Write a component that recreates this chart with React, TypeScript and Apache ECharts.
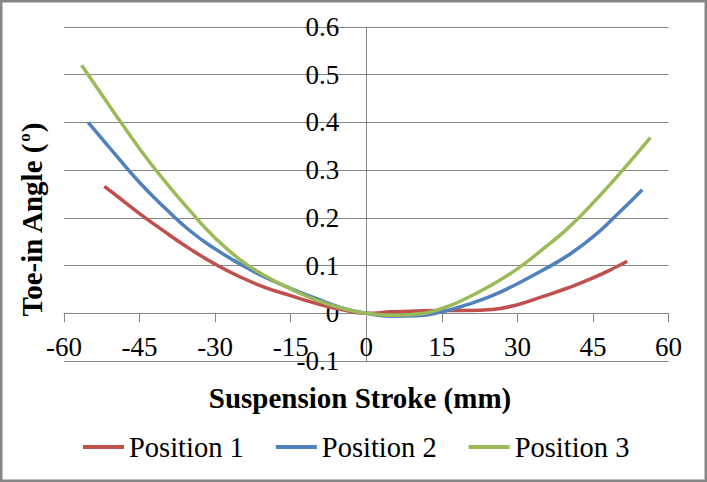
import React, { useEffect, useRef } from "react";
import * as echarts from "echarts";

const xTicks = { min: -60, max: 60, interval: 15 };
const yTicks = { min: -0.1, max: 0.6, interval: 0.1 };

const seriesNames = ["Position 1", "Position 2", "Position 3"];
const seriesColors = ["#C0504D", "#4F81BD", "#9BBB59"];

const p1X = [-52, -50, -45, -40, -35, -30, -25, -20, -15, -10, -5, 0, 5, 10, 15, 20, 25, 30, 35, 40, 45, 50, 51.8];
const p1Y = [0.266, 0.25, 0.209, 0.171, 0.135, 0.103, 0.076, 0.054, 0.037, 0.021, 0.008, 0, 0.003, 0.005, 0.006, 0.006, 0.008, 0.018, 0.035, 0.053, 0.074, 0.099, 0.109];

const p2X = [-55.2, -50, -45, -40, -35, -30, -25, -20, -15, -10, -5, 0, 5, 10, 15, 20, 25, 30, 35, 40, 45, 50, 54.8];
const p2Y = [0.4, 0.335, 0.274, 0.221, 0.173, 0.135, 0.103, 0.075, 0.052, 0.031, 0.012, 0, -0.006, -0.005, 0.003, 0.018, 0.037, 0.062, 0.09, 0.121, 0.16, 0.209, 0.259];

const p3X = [-56.5, -50, -45, -40, -35, -30, -25, -20, -15, -10, -5, 0, 5, 10, 15, 20, 25, 30, 35, 40, 45, 50, 56.4];
const p3Y = [0.52, 0.42, 0.345, 0.277, 0.215, 0.158, 0.112, 0.078, 0.051, 0.028, 0.011, 0, -0.004, -0.002, 0.01, 0.032, 0.06, 0.093, 0.134, 0.178, 0.231, 0.289, 0.368];

const allX = [p1X, p2X, p3X];
const allY = [p1Y, p2Y, p3Y];

const FONT = "Liberation Serif";
const GRAY = "#868686";

export default function App() {
  const ref = useRef<HTMLDivElement>(null);
  useEffect(() => {
    if (!ref.current) return;
    const chart = echarts.init(ref.current, null, { renderer: "svg" });
    const gridLeft = 64;
    const gridRight = 38.5;
    const gridTop = 27;
    const gridBottom = 121;
    const plotW = 707 - gridLeft - gridRight;
    const plotH = 482 - gridTop - gridBottom;
    const yAxisOffset = -plotW * ((0 - xTicks.min) / (xTicks.max - xTicks.min));
    const xAxisOffset = -plotH * ((0 - yTicks.min) / (yTicks.max - yTicks.min));
    const series = seriesNames.map((name, i) => ({
      name,
      type: "line",
      data: allX[i].map((x, j) => [x, allY[i][j]]),
      smooth: 0.5,
      symbol: "none",
      showSymbol: false,
      lineStyle: { color: seriesColors[i], width: 3.5 },
      itemStyle: { color: seriesColors[i] },
    }));
    chart.setOption({
      animation: false,
      backgroundColor: "#ffffff",
      grid: { left: gridLeft, right: gridRight, top: gridTop, bottom: gridBottom },
      xAxis: {
        type: "value",
        position: "bottom",
        offset: xAxisOffset,
        min: xTicks.min,
        max: xTicks.max,
        interval: xTicks.interval,
        axisLine: { show: true, onZero: false, lineStyle: { color: GRAY, width: 1 } },
        axisTick: { show: true, length: 9, lineStyle: { color: GRAY } },
        axisLabel: { margin: 20, fontSize: 27, fontFamily: FONT, color: "#000" },
        splitLine: { show: false },
      },
      yAxis: {
        type: "value",
        position: "left",
        offset: yAxisOffset,
        min: yTicks.min,
        max: yTicks.max,
        interval: yTicks.interval,
        axisLine: { show: true, onZero: false, lineStyle: { color: GRAY, width: 1 } },
        axisTick: { show: false },
        axisLabel: {
          margin: 27,
          fontSize: 27,
          fontFamily: FONT,
          color: "#000",
          formatter: (v: number) => String(Math.round(v * 10) / 10),
        },
        splitLine: { show: true, lineStyle: { color: GRAY, width: 1 } },
      },
      legend: {
        data: seriesNames,
        left: 83,
        top: 430,
        padding: 0,
        icon: "rect",
        itemWidth: 41,
        itemHeight: 4,
        itemGap: 32,
        textStyle: { fontSize: 28.5, fontFamily: FONT, color: "#000", lineHeight: 34 },
      },
      graphic: [
        {
          type: "rect",
          shape: { x: 1.25, y: 1.25, width: 704.5, height: 479.5 },
          style: { fill: "none", stroke: GRAY, lineWidth: 2.5 },
          silent: true,
        },
        {
          type: "text",
          x: 360,
          y: 398,
          style: {
            text: "Suspension Stroke (mm)",
            font: `bold 29px ${FONT}`,
            fill: "#000",
            align: "center",
            verticalAlign: "middle",
          },
        },
        {
          type: "text",
          x: 32,
          y: 220,
          rotation: Math.PI / 2,
          style: {
            text: "{m|Toe-in Angle (}{s|o}{m|)}",
            align: "center",
            verticalAlign: "middle",
            fill: "#000",
            rich: {
              m: { font: `bold 29px ${FONT}`, fill: "#000", lineHeight: 32 },
              s: { font: `bold 17px ${FONT}`, fill: "#000", lineHeight: 32, verticalAlign: "top", padding: [0, 1, 13, 1] },
            },
          },
        },
      ],
      series,
    });
    return () => chart.dispose();
  }, []);
  return (
    <div
      ref={ref}
      style={{ position: "fixed", left: 0, top: 0, width: 707, height: 482 }}
    />
  );
}
